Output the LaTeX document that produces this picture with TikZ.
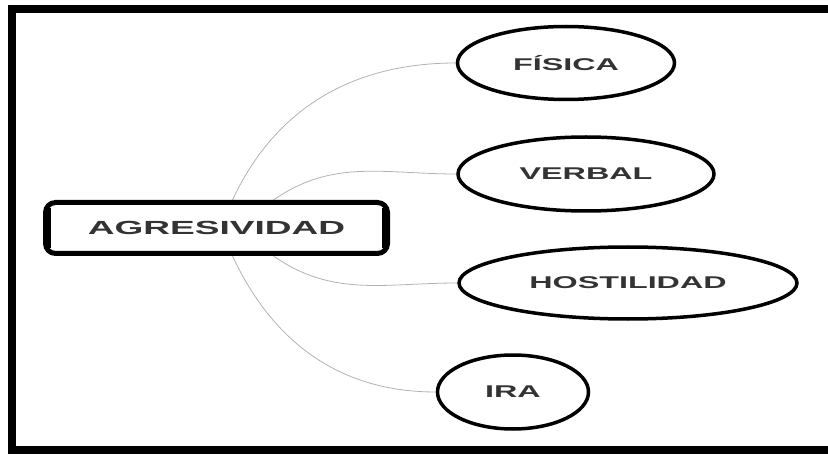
\documentclass[tikz,border=0pt]{standalone}
\usepackage{fontspec}
\setmainfont{Liberation Sans}
\usepackage{graphicx}
\usetikzlibrary{shapes.geometric,calc,positioning,backgrounds}
\newcommand{\wide}[1]{\scalebox{1.9}[1]{#1}}

\begin{document}
\begin{tikzpicture}[x=1pt,y=1pt,
  leaf/.style={ellipse, draw=black, line width=3.5pt, inner sep=0pt, fill=white,
    font=\fontsize{17}{17}\selectfont\bfseries, text=black!80},
  link/.style={draw=black!30, line width=0.8pt}]

  % Fixed bounding box
  \path[use as bounding box] (0,0) rectangle (828,456);
  \clip (0,0) rectangle (828,456);

  % ---- outer frame (runs off on the right) ----
  \draw[line width=8pt] (845,447) -- (12,447) -- (12,6) -- (845,6);

  % ---- centre box ----
  \node[draw, line width=5pt, rounded corners=10pt, minimum width=342pt,
        minimum height=51pt, inner sep=0pt, fill=white,
        font=\fontsize{19}{19}\selectfont\bfseries, text=black!80]
        (agr) at (216.5,228) {\scalebox{1.95}[1]{AGRESIVIDAD}};
  \draw[line width=6pt] ([xshift=5pt,yshift=-8pt]agr.north west) -- ([xshift=5pt,yshift=8pt]agr.south west);
  \draw[line width=6pt] ([xshift=-5pt,yshift=-8pt]agr.north east) -- ([xshift=-5pt,yshift=8pt]agr.south east);

  % ---- the four kinds ----
  \node[leaf, minimum width=217pt, minimum height=73pt] (fis) at (566,393) {\wide{FÍSICA}};
  \node[leaf, minimum width=256pt, minimum height=74pt] (verb) at (586,282) {\wide{VERBAL}};
  \node[leaf, minimum width=338pt, minimum height=72pt] (host) at (628,173) {\wide{HOSTILIDAD}};
  \node[leaf, minimum width=151pt, minimum height=74pt] (ira) at (513,64) {\wide{IRA}};

  % ---- links (behind the nodes) ----
  \begin{scope}[on background layer]
    \draw[link] ($(agr.north)+(16,0)$) to[out=65,in=180] (fis.west);
    \draw[link] ($(agr.north)+(57,0)$) to[out=35,in=180] (verb.west);
    \draw[link] ($(agr.south)+(57,0)$) to[out=-35,in=180] (host.west);
    \draw[link] ($(agr.south)+(16,0)$) to[out=-65,in=180] (ira.west);
  \end{scope}

\end{tikzpicture}
\end{document}
